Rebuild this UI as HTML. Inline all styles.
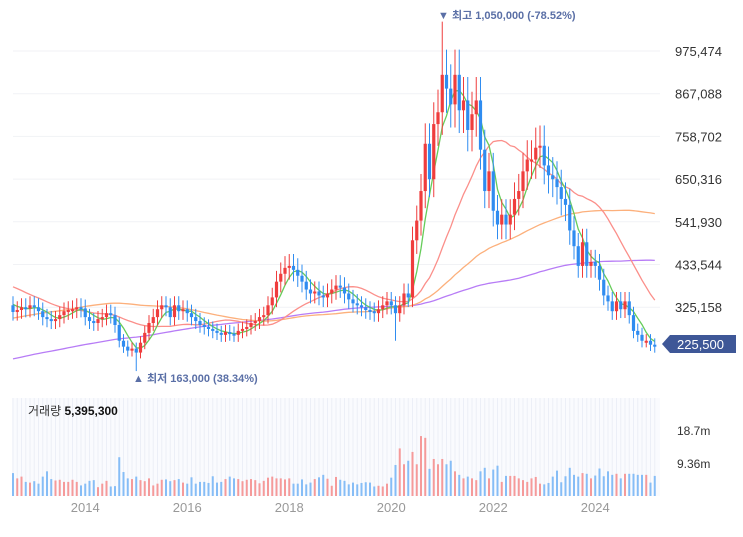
<!DOCTYPE html>
<html><head><meta charset="utf-8"><style>
html,body{margin:0;padding:0;background:#fff;}
body{width:743px;height:532px;overflow:hidden;font-family:"Liberation Sans","Noto Sans CJK KR",sans-serif;}
svg text{font-family:"Liberation Sans","Noto Sans CJK KR",sans-serif;}
</style></head><body>
<svg id="chart" width="743" height="532" viewBox="0 0 743 532" xmlns="http://www.w3.org/2000/svg">
<g id="grid"></g>
<g id="volbg"></g>
<g id="ma"></g>
<g id="candles"></g>
<g id="vols"></g>
<g id="axes"></g>
<text x="438" y="19" font-size="11" font-weight="bold" fill="#5a6fa6">▼ 최고 1,050,000 (-78.52%)</text>
<text x="133" y="382" font-size="11" font-weight="bold" fill="#5a6fa6">▲ 최저 163,000 (38.34%)</text>
<g>
<polygon points="662,344 670,335 736,335 736,353 670,353" fill="#3e5797"/>
<text x="677" y="349" font-size="13" fill="#fff">225,500</text>
</g>
<text x="28" y="415" font-size="12" fill="#333">거래량 <tspan font-weight="bold" fill="#111">5,395,300</tspan></text>
</svg>
<script>
const hist=[40,42,45,44,48,50,52,55,53,56,58,60,62,61,64,66,65,68,70,72,70,73,75,74,77,78,80,79,82,84,83,85,86,88,87,90,92,91,94,96,95,98,100,102,104,106,108,110,112,115,118,120,125,130,135,140,150,160,170,185,
190,200,210,205,215,220,210,200,195,205,215,225,230,220,210,200,190,185,195,205,215,225,235,245,250,255,260,270,280,290,300,310,320,330,340,350,360,370,380,390,
400,410,420,430,425,415,405,395,390,385,380,375,370,365,360,350,345,340,335,330];
const closes=[313,318,325,322,330,325,315,300,295,290,
295,305,315,318,320,325,322,300,290,285,
295,300,310,305,280,240,225,215,220,210,
235,260,285,300,320,330,325,300,330,315,
320,310,300,290,280,275,270,265,260,255,
262,258,255,265,270,275,285,290,300,305,
330,350,390,410,425,430,420,405,390,370,
360,365,355,350,360,370,380,375,360,345,
335,330,325,318,315,310,320,330,340,330,
310,330,360,350,495,545,620,740,650,790,
820,915,880,840,915,825,850,775,815,850,
725,620,670,570,535,560,535,560,600,620,
670,700,700,730,735,685,660,650,630,600,
585,520,480,430,490,430,440,430,395,355,
340,315,340,320,340,305,265,255,240,240,
230,225.5];
const volumes=[6.5,5,5.5,4,3.8,4.2,3.5,5.5,7,4.8,4.4,4.6,4,4,4.6,4,3,3.5,4.3,4.5,2.5,3.5,4.3,2.7,2.8,
11,6.8,5,4.8,5.5,4.5,4.2,5,3,3.5,4.6,4.7,4.2,4.5,4.8,3.8,3.5,5.3,3.5,4,4,3.7,5.6,3.8,4,4.8,5.5,5,4.8,4.2,4.6,4.8,4.5,3.6,4.3,5.2,5.5,5,5,4.7,5,3.5,3.5,4.7,3.3,3.8,4.8,5.3,6,4.9,2.9,5.4,4.6,4.3,3.3,3.8,3.3,3.7,3.9,3.8,2.7,2.9,2.7,3.5,
5.2,8.8,13.5,9,10,12.5,9,17,16.5,7.7,10.5,9,10.5,9,10,7,6,5,5.5,5,4.5,7,8,5,7.5,8.6,4,5.7,5.7,5.7,5,4.5,4,5,5.4,3.5,3.3,3.7,5.5,7.2,3.9,5.6,8,6,5.5,6.5,6.3,5,5.8,7.8,5.6,7,6,6.3,5,6.3,6.3,6.3,6,6,6,3.8,5.7];
const specialHigh={101:1050};
const specialLow={29:163,90:240};
const priceTicks=[975474,867088,758702,650316,541930,433544,325158];
const volTicks=[18.7,9.36];
const volTickLabels=["18.7m","9.36m"];
const yearLabels=["2014","2016","2018","2020","2022","2024"];
const yearIndex=[17,41,65,89,113,137];

const NS="http://www.w3.org/2000/svg";
const X0=13, DX=4.25;
const xOf=i=>X0+i*DX;
const yP=p=>51+(975474-p*1000)/108386*42.7;
const yPabs=v=>51+(975474-v)/108386*42.7;
const yV=v=>496-v/9.36*33;
function mk(tag,attrs,parent){const e=document.createElementNS(NS,tag);for(const k in attrs)e.setAttribute(k,attrs[k]);parent.appendChild(e);return e;}

const grid=document.getElementById('grid');
priceTicks.forEach(t=>{
 const l=mk('line',{x1:13,x2:660,y1:yPabs(t),y2:yPabs(t),stroke:'#f1f2f5','stroke-width':1},grid);
 
 
});
const axes=document.getElementById('axes');
priceTicks.forEach(t=>{
 const tx=mk('text',{x:722,y:yPabs(t)+5,'text-anchor':'end','font-size':13,fill:'#333'},axes);
 tx.textContent=t.toLocaleString('en-US');
 
 
});
volTicks.forEach((v,k)=>{
 const tx=mk('text',{x:677,y:yV(v)+5,'font-size':12,fill:'#333'},axes);
 tx.textContent=volTickLabels[k];
 
 
});
yearLabels.forEach((yl,k)=>{
 const tx=mk('text',{x:xOf(yearIndex[k]),y:512,'text-anchor':'middle','font-size':13,fill:'#999'},axes);
 tx.textContent=yl;
 
 
});
const vbg=document.getElementById('volbg');
mk('rect',{x:12,y:398,width:648,height:98,fill:'#fafbfe'},vbg);
for(let i=0;i<closes.length;i++){
 mk('line',{x1:xOf(i),x2:xOf(i),y1:398,y2:496,stroke:'#eceff7','stroke-width':1},vbg);
}
const all=hist.concat(closes);
const maDefs=[[120,'#b77cf6'],[60,'#fcb07c'],[20,'#fb8f8a'],[5,'#66cc5a']];
const maG=document.getElementById('ma');
maDefs.forEach(([n,col])=>{
 let d='';
 for(let i=0;i<closes.length;i++){
  const j=hist.length+i;let s=0;for(let k=j-n+1;k<=j;k++)s+=all[k];
  d+=(i?'L':'M')+xOf(i).toFixed(1)+' '+yP(s/n).toFixed(1);
 }
 const p=mk('path',{d:d,fill:'none',stroke:col,'stroke-width':1.3},maG);
 
 
});
const cg=document.getElementById('candles'),vg=document.getElementById('vols');
for(let i=0;i<closes.length;i++){
 const o=i?closes[i-1]:hist[hist.length-1],c=closes[i];
 const up=c>=o;const col=up?'#ef3d3d':'#2f8cf0';
 const hi=specialHigh[i]!==undefined?specialHigh[i]:Math.max(o,c)*1.07;
 const lo=specialLow[i]!==undefined?specialLow[i]:Math.min(o,c)*0.93;
 const x=xOf(i);
 const g=mk('g',{},cg);
 
 
 mk('line',{x1:x,x2:x,y1:yP(hi),y2:yP(lo),stroke:col,'stroke-width':1},g);
 const yt=yP(Math.max(o,c)),yb=yP(Math.min(o,c));
 mk('rect',{x:x-1.6,y:yt,width:3.2,height:Math.max(2,yb-yt),fill:col},g);
 if(i<volumes.length){
  const v=volumes[i];
  const b=mk('rect',{x:x-1,y:yV(v),width:2,height:496-yV(v),fill:up?'#f59a9a':'#86bdf6'},vg);
  
  
 }
}
</script>
</body></html>
